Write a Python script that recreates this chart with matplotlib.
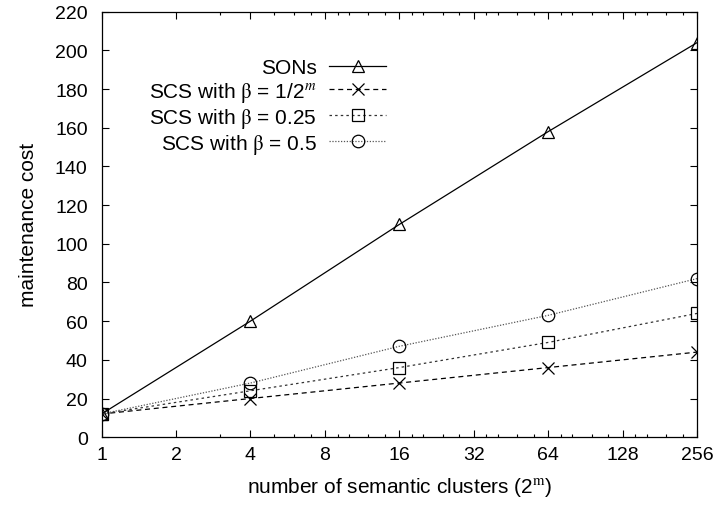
import numpy as np
import matplotlib
matplotlib.use("Agg")
import matplotlib.pyplot as plt
from matplotlib.ticker import FixedLocator, FixedFormatter, NullFormatter

plt.rcParams["font.family"] = ["Liberation Sans", "DejaVu Sans"]
plt.rcParams["mathtext.fontset"] = "stix"

# maintenance cost vs number of semantic clusters
clusters = [1, 4, 16, 64, 256]
sons = [12, 60, 110, 158, 204]
scs_half_m = [12, 20, 28, 36, 44]
scs_025 = [12, 24, 36, 49, 64]
scs_05 = [12, 28, 47, 63, 82]

xticks = [1, 2, 4, 8, 16, 32, 64, 128, 256]
yticks = list(range(0, 221, 20))

# gnuplot-style minor ticks on the log2 axis (integer positions only)
minor = []
for k in range(8):
    for m in (9, 10, 12, 14):
        v = 2 ** k * m / 8
        if v == int(v):
            minor.append(v)

fs_tick = 14
fs = 15
fig = plt.figure(figsize=(7.15, 5.06), dpi=100)
ax = fig.add_axes([0.142, 0.134, 0.833, 0.841])

lw = 0.9
ax.plot(clusters, sons, color="black", lw=lw, marker="^", ms=9,
        mfc="none", mec="black", mew=0.9, label="SONs")
ax.plot(clusters, scs_half_m, color="black", lw=lw, ls=(0, (4, 3)), marker="x", ms=9,
        mew=0.9, label=r"SCS with $\mathrm{\beta}$ = 1/2$^{m}$")
ax.plot(clusters, scs_025, color="#333333", lw=lw, ls=(0, (2, 2.5)), marker="s", ms=8,
        mfc="none", mec="black", mew=0.9, label=r"SCS with $\mathrm{\beta}$ = 0.25")
ax.plot(clusters, scs_05, color="#555555", lw=lw, ls=(0, (1, 1.3)), marker="o", ms=9,
        mfc="none", mec="black", mew=0.9, label=r"SCS with $\mathrm{\beta}$ = 0.5")

ax.set_xscale("log", base=2)
ax.set_xlim(1, 256)
ax.set_ylim(0, 220)
ax.xaxis.set_major_locator(FixedLocator(xticks))
ax.xaxis.set_major_formatter(FixedFormatter([str(t) for t in xticks]))
ax.xaxis.set_minor_locator(FixedLocator(minor))
ax.xaxis.set_minor_formatter(NullFormatter())
ax.set_yticks(yticks)

ax.tick_params(which="both", direction="in", top=True, right=True, labelsize=fs_tick,
               width=0.8)
ax.tick_params(axis="x", pad=6)
ax.tick_params(axis="y", pad=10)
ax.tick_params(which="major", length=5)
ax.tick_params(which="minor", length=2.5)
for s in ax.spines.values():
    s.set_linewidth(0.9)

ax.set_xlabel(r"number of semantic clusters (2$^{\mathrm{m}}$)", fontsize=fs, labelpad=9)
ax.set_ylabel("maintenance cost", fontsize=fs, labelpad=12)

ax.legend(loc="upper right", bbox_to_anchor=(0.477, 0.89), frameon=False, fontsize=fs,
          markerfirst=False, handlelength=2.7, numpoints=1, labelspacing=0.1,
          handletextpad=0.62, borderpad=0, borderaxespad=0)

fig.savefig("out.png", dpi=100)
